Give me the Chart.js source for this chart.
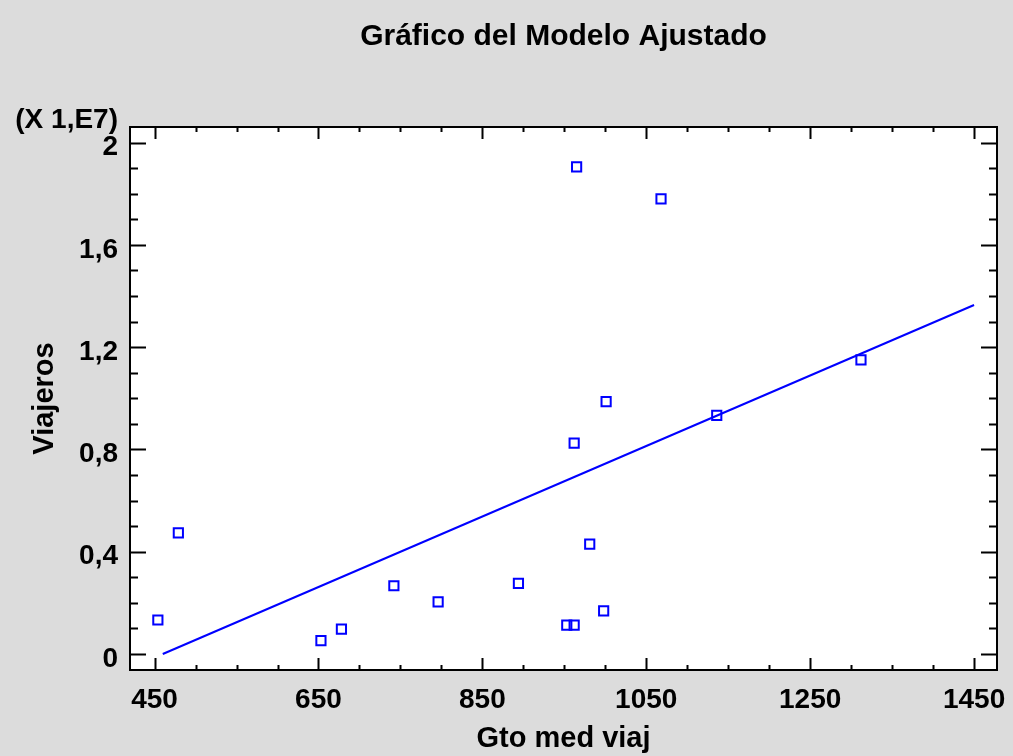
<!DOCTYPE html>
<html>
<head>
<meta charset="utf-8">
<title>Gráfico del Modelo Ajustado</title>
<script src="https://cdn.jsdelivr.net/npm/chart.js@4/dist/chart.umd.min.js"></script>
<style>
    body { margin: 0; background: #dcdcdc; }
    #wrap { width: 1013px; height: 756px; }
</style>
</head>
<body>
<div id="wrap"><canvas id="fitChart" width="1013" height="756"></canvas></div>
<script>
// Observed data (Viajeros in units of 1E7)
const gtoMedViaj = [454, 479, 653, 678, 742, 796, 894, 953, 962, 962, 965, 981, 998, 1001, 1068, 1136, 1312];
const viajeros = [0.133, 0.474, 0.052, 0.097, 0.267, 0.204, 0.276, 0.113, 0.113, 0.825, 1.905, 0.430, 0.169, 0.987, 1.780, 0.933, 1.150];

// Fitted line end points
const fitX = [460, 1450];
const fitY = [0.0, 1.365];

// Axis ticks
const xTicks = [450, 650, 850, 1050, 1250, 1450];
const yTicks = [0, 0.4, 0.8, 1.2, 1.6, 2];
const xMinorStep = 50;
const yMinorStep = 0.1;

const blue = '#0000ff';

// Gray background, white plot, frame with inward ticks
const framePlugin = {
    id: 'framePlugin',
    beforeDraw(chart) {
        const { ctx, chartArea: a } = chart;
        ctx.save();
        ctx.fillStyle = '#dcdcdc';
        ctx.fillRect(0, 0, chart.width, chart.height);
        ctx.fillStyle = '#ffffff';
        ctx.fillRect(a.left, a.top, a.right - a.left, a.bottom - a.top);
        ctx.restore();
    },
    afterDraw(chart) {
        const { ctx, chartArea: a } = chart;
        const xs = chart.scales.x, ys = chart.scales.y;
        ctx.save();
        ctx.strokeStyle = '#000';
        ctx.lineWidth = 2;

        // x ticks (top and bottom)
        for (let v = xTicks[0]; v <= xs.max; v += xMinorStep) {
            const major = xTicks.includes(v);
            const px = Math.round(xs.getPixelForValue(v)) + 0.5;
            const len = major ? 12 : 5;
            ctx.beginPath();
            ctx.moveTo(px, a.bottom); ctx.lineTo(px, a.bottom - len);
            ctx.moveTo(px, a.top); ctx.lineTo(px, a.top + len);
            ctx.stroke();
        }
        // y ticks (left and right)
        for (let i = 0; i * yMinorStep <= ys.max + 1e-9; i++) {
            const v = +(i * yMinorStep).toFixed(1);
            const major = yTicks.includes(v);
            const py = Math.round(ys.getPixelForValue(v)) + 0.5;
            const len = major ? 16 : 8;
            ctx.beginPath();
            ctx.moveTo(a.left, py); ctx.lineTo(a.left + len, py);
            ctx.moveTo(a.right, py); ctx.lineTo(a.right - len, py);
            ctx.stroke();
        }
        ctx.strokeRect(a.left, a.top, a.right - a.left, a.bottom - a.top);

        // scale factor note
        ctx.fillStyle = '#000';
        ctx.font = 'bold 28px Arial';
        ctx.textAlign = 'right';
        ctx.textBaseline = 'alphabetic';
        ctx.fillText('(X 1,E7)', 118, 128);
        ctx.restore();
    }
};

const ctx = document.getElementById('fitChart');
new Chart(ctx, {
    type: 'scatter',
    data: {
        datasets: [{
            label: 'Observados',
            data: gtoMedViaj.map((x, i) => ({ x: x, y: viajeros[i] })),
            pointStyle: 'rect',
            pointRadius: 6.5,
            pointBorderWidth: 2,
            pointBorderColor: blue,
            pointBackgroundColor: 'rgba(0,0,0,0)',
            showLine: false
        }, {
            label: 'Modelo',
            data: fitX.map((x, i) => ({ x: x, y: fitY[i] })),
            showLine: true,
            borderColor: blue,
            borderWidth: 2,
            pointRadius: 0
        }]
    },
    options: {
        responsive: false,
        animation: false,
        layout: { padding: { left: 0, right: 16, top: 0, bottom: 0 } },
        plugins: {
            legend: { display: false },
            tooltip: { enabled: false },
            title: {
                display: true,
                text: 'Gráfico del Modelo Ajustado',
                fullSize: false,
                color: '#000',
                font: { family: 'Arial', size: 30, weight: 'bold', lineHeight: 1.2 },
                padding: { top: 19, bottom: 72 }
            }
        },
        scales: {
            x: {
                type: 'linear',
                min: 420,
                max: 1478,
                grid: { display: false, drawTicks: false },
                border: { display: false },
                afterBuildTicks: axis => { axis.ticks = xTicks.map(v => ({ value: v })); },
                afterFit: axis => { axis.height = 86; axis.paddingLeft = 0; axis.paddingRight = 0; },
                ticks: {
                    autoSkip: false,
                    maxRotation: 0,
                    padding: 13,
                    color: '#000',
                    font: { family: 'Arial', size: 28, weight: 'bold' },
                    callback: v => String(v)
                },
                title: {
                    display: true,
                    text: 'Gto med viaj',
                    color: '#000',
                    font: { family: 'Arial', size: 29, weight: 'bold', lineHeight: 1.2 },
                    padding: { top: 0, bottom: 0 }
                }
            },
            y: {
                type: 'linear',
                min: -0.0626,
                max: 2.061,
                grid: { display: false, drawTicks: false },
                border: { display: false },
                afterBuildTicks: axis => { axis.ticks = yTicks.map(v => ({ value: v })); },
                afterFit: axis => { axis.width = 130; axis.paddingTop = 0; axis.paddingBottom = 0; },
                ticks: {
                    padding: 12,
                    labelOffset: 5,
                    color: '#000',
                    font: { family: 'Arial', size: 28, weight: 'bold' },
                    callback: v => String(+v.toFixed(1)).replace('.', ',')
                },
                title: {
                    display: true,
                    text: 'Viajeros',
                    color: '#000',
                    font: { family: 'Arial', size: 29, weight: 'bold', lineHeight: 1.2 },
                    padding: { top: 28, bottom: 0 }
                }
            }
        }
    },
    plugins: [framePlugin]
});
</script>
</body>
</html>
